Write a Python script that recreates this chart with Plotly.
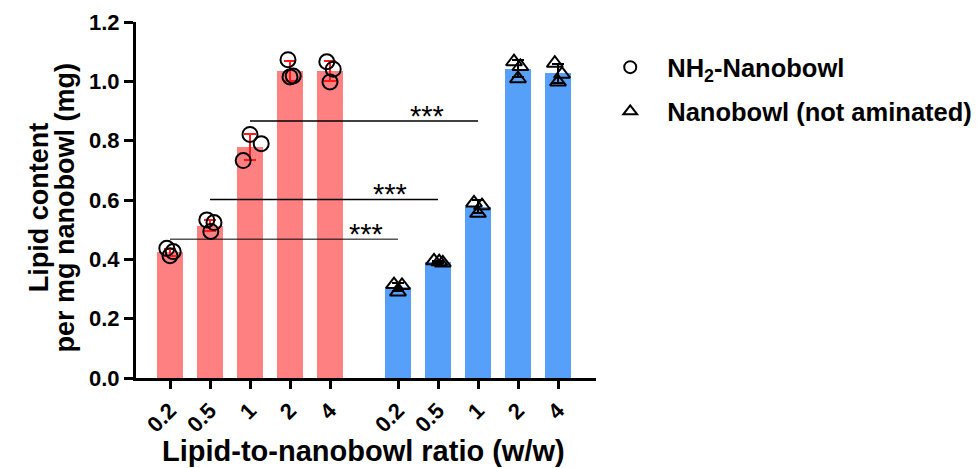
import plotly.graph_objects as go
import numpy as np

# ---------------- data ----------------
ratios = ["0.2", "0.5", "1", "2", "4"]
nh2_mean = [0.424, 0.514, 0.779, 1.035, 1.035]
nh2_sd = [0.012, 0.020, 0.045, 0.033, 0.034]
nh2_points = [
    [0.437, 0.426, 0.412],
    [0.533, 0.524, 0.494],
    [0.821, 0.790, 0.733],
    [1.073, 1.015, 1.018],
    [1.066, 1.041, 0.998],
]
plain_mean = [0.306, 0.391, 0.578, 1.043, 1.027]
plain_sd = [0.013, 0.004, 0.021, 0.029, 0.032]
plain_points = [
    [0.315, 0.312, 0.290],
    [0.395, 0.392, 0.388],
    [0.590, 0.581, 0.555],
    [1.066, 1.050, 1.009],
    [1.061, 1.024, 0.998],
]
sig_labels = ["***", "***", "***"]
y_title_lines = ["Lipid content", "per mg nanobowl (mg)"]
x_title = "Lipid-to-nanobowl ratio (w/w)"

# ---------------- layout constants ----------------
red_x = [0, 1, 2, 3, 4]
blue_x = [5.7, 6.7, 7.7, 8.7, 9.7]
jit_red = [[-0.08, 0.08, 0.0], [-0.08, 0.1, 0.02], [0.0, 0.28, -0.17], [-0.05, 0.0, 0.08], [-0.08, 0.08, 0.0]]
jit_blue = [[-0.1, 0.1, 0.0], [-0.1, 0.03, 0.12], [-0.1, 0.1, 0.0], [-0.1, 0.06, 0.0], [-0.08, 0.1, 0.0]]
RED = "#FF8080"
BLUE = "#56A0FA"
FONT = "Liberation Sans, Arial, sans-serif"

fig = go.Figure()

fig.add_trace(go.Bar(
    x=red_x, y=nh2_mean, width=0.67, marker=dict(color=RED, line=dict(width=0)),
    error_y=dict(type="data", array=nh2_sd, color="#FF1A1A", thickness=2, width=6),
    showlegend=False, hoverinfo="skip"))
fig.add_trace(go.Bar(
    x=blue_x, y=plain_mean, width=0.67, marker=dict(color=BLUE, line=dict(width=0)),
    error_y=dict(type="data", array=plain_sd, color="black", thickness=2, width=6),
    showlegend=False, hoverinfo="skip"))

px_r, py_r = [], []
for i, pts in enumerate(nh2_points):
    for j, v in enumerate(pts):
        px_r.append(red_x[i] + jit_red[i][j]); py_r.append(v)
px_b, py_b = [], []
for i, pts in enumerate(plain_points):
    for j, v in enumerate(pts):
        px_b.append(blue_x[i] + jit_blue[i][j]); py_b.append(v)

fig.add_trace(go.Scatter(
    x=px_r, y=py_r, mode="markers", name="NH<sub>2</sub>-Nanobowl", legendgroup="a",
    marker=dict(symbol="circle-open", size=15, color="black", line=dict(width=2))))
fig.add_trace(go.Scatter(
    x=px_b, y=py_b, mode="markers", name="Nanobowl (not aminated)", legendgroup="b",
    marker=dict(symbol="triangle-up-open", size=14, color="black", line=dict(width=2))))

# significance lines
sig = [
    (red_x[2], blue_x[2], 0.866, 6.42, 1.5),
    (red_x[1], blue_x[1], 0.602, 5.5, 1.5),
    (red_x[0], blue_x[0], 0.468, 4.9, 1.0),
]
for k, (x0, x1, yv, tx, lw) in enumerate(sig):
    fig.add_shape(type="line", x0=x0, x1=x1, y0=yv, y1=yv, xref="x", yref="y",
                  line=dict(color="black", width=lw))
    fig.add_annotation(x=tx, y=yv, text=sig_labels[k], showarrow=False, xanchor="center",
                       yanchor="bottom", yshift=-13, font=dict(family=FONT, size=29, color="black"))

# axis titles (two separate lines, tight spacing as in the reference)
for line, xp in zip(y_title_lines, [-0.212, -0.155]):
    fig.add_annotation(x=xp, y=0.478, xref="paper", yref="paper", textangle=-90,
                       text="<b>%s</b>" % line, showarrow=False,
                       font=dict(family=FONT, size=27, color="black"), xanchor="center", yanchor="middle")
fig.add_annotation(x=0.494, y=-0.204, xref="paper", yref="paper",
                   text="<b>%s</b>" % x_title, showarrow=False,
                   font=dict(family=FONT, size=29, color="black"), xanchor="center", yanchor="middle")

fig.update_layout(
    width=978, height=468,
    margin=dict(l=136, r=382, t=22, b=90, autoexpand=False),
    plot_bgcolor="white", paper_bgcolor="white",
    barmode="overlay", bargap=0,
    font=dict(family=FONT, color="black"),
    legend=dict(x=0.994, y=0.938, xanchor="left", yanchor="top",
                font=dict(family=FONT, size=25.5, color="black", weight="bold"),
                tracegroupgap=8, itemwidth=64, itemsizing="constant", bgcolor="rgba(0,0,0,0)"),
    showlegend=True,
)
fig.update_xaxes(range=[-0.85, 10.65], tickmode="array", tickvals=red_x + blue_x,
                 ticktext=ratios + ratios, tickangle=-45, showline=True, linecolor="black",
                 linewidth=3, ticks="outside", ticklen=8, tickwidth=3, tickcolor="black",
                 tickfont=dict(family=FONT, size=22, color="black", weight="bold"),
                 showgrid=False, zeroline=False, automargin=False)
fig.update_yaxes(range=[0, 1.2], tickvals=[0, 0.2, 0.4, 0.6, 0.8, 1.0, 1.2], tickformat=".1f",
                 showline=True, linecolor="black", linewidth=3, ticks="outside", ticklen=9,
                 tickwidth=3, tickcolor="black",
                 tickfont=dict(family=FONT, size=22, color="black", weight="bold"),
                 showgrid=False, zeroline=False, automargin=False)

fig.write_html("out.html", config={"displayModeBar": False},
               post_script="document.body.style.margin='0';")
